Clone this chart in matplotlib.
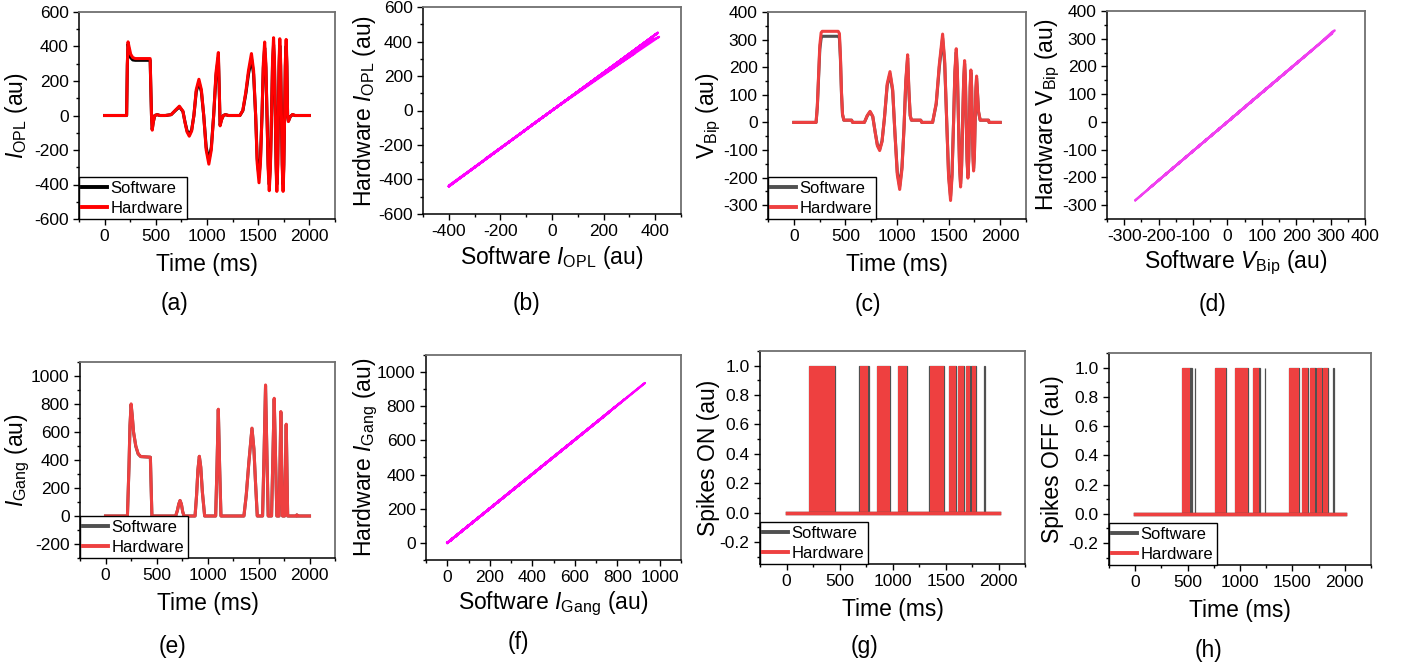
import matplotlib
matplotlib.use('Agg')
import matplotlib.pyplot as plt
from matplotlib.ticker import MultipleLocator, FixedLocator

plt.rcParams['font.family'] = ['Liberation Sans', 'DejaVu Sans']
plt.rcParams['mathtext.fontset'] = 'custom'
plt.rcParams['mathtext.rm'] = 'Liberation Sans'
plt.rcParams['mathtext.it'] = 'Liberation Sans:italic'
plt.rcParams['axes.unicode_minus'] = False

# ---- data (time in ms) ----
t_opl = [0, 215, 222, 229, 240, 255, 275, 300, 445, 450, 458, 465, 475, 490, 514, 540,
         594, 650, 690, 730, 765, 785, 805, 827, 850, 872, 895, 921, 945, 968, 992, 1018,
         1042, 1065, 1088, 1111, 1120, 1128, 1142, 1160, 1180, 1210,
         1321, 1350, 1380, 1405, 1434, 1455, 1475, 1490, 1508, 1522, 1537, 1550, 1563, 1575,
         1586, 1597, 1608, 1619, 1630, 1640, 1650, 1659, 1667, 1675, 1682, 1690, 1697, 1704,
         1711, 1719, 1727, 1735, 1743, 1750, 1758, 1765, 1773, 1780, 1787, 1795, 1812, 1835,
         1860, 2000]
hw_opl = [0, 0, 300, 427, 395, 355, 336, 330, 330, 200, 0, -85, -40, 0, 5, 0,
          0, 5, 30, 54, 25, -40, -95, -120, -90, 0, 150, 210, 150, 0, -200, -282,
          -200, 0, 250, 365, 150, -60, -25, 0, 5, 0,
          0, 30, 140, 260, 359, 260, 0, -275, -390, -275, 0, 300, 426, 300,
          0, -308, -436, -308, 0, 318, 451, 318, 0, -311, -440, -311, 0, 315,
          445, 315, 0, -311, -440, -311, 0, 312, 441, 312, 0, -35, -8, 6,
          0, 0]
sw_opl = [0, 0, 290, 415, 370, 335, 322, 320, 320, 190, 0, -80, -38, 0, 5, 0,
          0, 5, 28, 50, 23, -37, -88, -111, -83, 0, 138, 193, 138, 0, -184, -260,
          -184, 0, 230, 336, 138, -55, -23, 0, 5, 0,
          0, 28, 130, 240, 330, 240, 0, -250, -355, -250, 0, 276, 392, 276,
          0, -282, -400, -282, 0, 290, 410, 290, 0, -283, -400, -283, 0, 287,
          405, 287, 0, -283, -400, -283, 0, 284, 402, 284, 0, -32, -7, 5,
          0, 0]

t_bip = [0, 216, 228, 240, 252, 265, 275, 430, 442, 452, 462, 472, 485, 560, 570,
         684, 712, 739, 765, 790, 810, 832, 855, 878, 905, 932, 958, 980, 1003, 1026,
         1048, 1068, 1085, 1103, 1115, 1128, 1140, 1230, 1240,
         1345, 1380, 1410, 1442, 1462, 1482, 1500, 1519, 1533, 1548, 1561, 1574, 1585,
         1596, 1606, 1616, 1626, 1636, 1646, 1655, 1663, 1671, 1679, 1687, 1695, 1702,
         1709, 1716, 1723, 1729, 1736, 1742, 1750, 1757, 1764, 1771, 1780, 1790, 1806,
         1887, 1892, 2000]
hw_bip = [0, 0, 60, 170, 280, 325, 330, 330, 322, 240, 110, 30, 8, 8, 0,
          0, 25, 40, 22, -40, -85, -102, -70, 15, 140, 184, 120, -40, -190, -243,
          -170, -20, 150, 245, 120, 25, 8, 8, 0,
          0, 70, 210, 320, 224, 0, -198, -283, -198, 0, 187, 267, 187,
          0, -164, -234, -164, 0, 157, 224, 157, 0, -141, -202, -141, 0,
          133, 190, 133, 0, -123, -176, -123, 0, 118, 168, 110, 40, 8,
          8, 0, 0]
sw_bip = [0, 0, 55, 160, 265, 305, 312, 312, 305, 228, 105, 28, 8, 8, 0,
          0, 24, 38, 21, -38, -81, -97, -67, 14, 133, 175, 114, -38, -181, -231,
          -162, -19, 143, 233, 114, 24, 8, 8, 0,
          0, 66, 200, 305, 213, 0, -188, -268, -188, 0, 178, 254, 178,
          0, -156, -222, -156, 0, 149, 213, 149, 0, -134, -192, -134, 0,
          126, 180, 126, 0, -117, -167, -117, 0, 112, 160, 105, 38, 8,
          8, 0, 0]

t_gang = [0, 215, 230, 240, 251, 262, 275, 297, 320, 345, 440, 446, 455,
          688, 705, 718, 731, 744, 757, 770,
          878, 893, 906, 920, 934, 950, 972,
          1080, 1093, 1106, 1119, 1132,
          1357, 1380, 1405, 1436, 1455, 1470, 1488,
          1540, 1555, 1569, 1582, 1595, 1628, 1641, 1654, 1667, 1680,
          1702, 1711, 1719, 1727, 1736, 1756, 1764, 1772, 1779, 1786,
          1870, 1876, 1882, 2000]
hw_gang = [0, 0, 350, 650, 801, 720, 600, 500, 445, 425, 420, 250, 0,
           0, 40, 85, 111, 85, 30, 0,
           0, 150, 330, 427, 350, 170, 0,
           0, 350, 763, 350, 0,
           0, 150, 380, 628, 480, 250, 0,
           0, 460, 936, 460, 0, 0, 420, 841, 420, 0,
           0, 380, 746, 380, 0, 0, 330, 656, 330, 0,
           0, 8, 0, 0]
sw_gang = [0, 0, 345, 645, 795, 715, 598, 498, 443, 424, 420, 248, 0,
           0, 40, 84, 110, 84, 30, 0,
           0, 149, 328, 425, 348, 169, 0,
           0, 348, 760, 348, 0,
           0, 149, 378, 625, 478, 249, 0,
           0, 457, 930, 457, 0, 0, 418, 835, 418, 0,
           0, 378, 742, 378, 0, 0, 328, 652, 328, 0,
           0, 8, 0, 0]

# spike bursts (start, end) in ms
t_span = [0, 2000]
hw_on = [(212, 460), (695, 765), (858, 973), (1052, 1139), (1352, 1484),
         (1531, 1599), (1621, 1678), (1690, 1728), (1747, 1787)]
sw_on = [(210, 460), (683, 775), (858, 973), (1052, 1139), (1340, 1484),
         (1531, 1599), (1621, 1678), (1690, 1728), (1738, 1787), (1862, 1868)]
hw_off = [(446, 526), (765, 864), (957, 1081), (1123, 1183), (1470, 1560),
          (1591, 1646), (1668, 1719), (1732, 1780), (1795, 1837)]
sw_off = [(446, 542), (566, 574), (765, 864), (957, 1081), (1123, 1192),
          (1234, 1241), (1470, 1560), (1591, 1646), (1668, 1722), (1732, 1782),
          (1795, 1842), (1888, 1894)]

W, H = 1408, 668
fig = plt.figure(figsize=(W / 100, H / 100), dpi=100)

TICK_FS = 12.5
LABEL_FS = 16.5
GRAY = '#505050'
LRED = '#EE4040'
MAG = '#FF00FF'


def make_ax(l, t, r, b):
    ax = fig.add_axes([l / W, 1 - b / H, (r - l) / W, (b - t) / H])
    ax.px_w = r - l
    return ax


def style(ax, xlim, ylim, xmaj, xmin, ymaj, ymin):
    ax.set_xlim(*xlim)
    ax.set_ylim(*ylim)
    ax.xaxis.set_major_locator(MultipleLocator(xmaj))
    ax.xaxis.set_minor_locator(MultipleLocator(xmin))
    ax.yaxis.set_major_locator(MultipleLocator(ymaj))
    ax.yaxis.set_minor_locator(MultipleLocator(ymin))
    ax.tick_params(which='major', direction='out', length=4.5, width=1,
                   labelsize=TICK_FS, pad=3, top=False, right=False)
    ax.tick_params(which='minor', direction='out', length=2.5, width=1,
                   top=False, right=False)
    for s in ['left', 'bottom']:
        ax.spines[s].set_color('black')
        ax.spines[s].set_linewidth(1.1)
    for s in ['top', 'right']:
        ax.spines[s].set_color('#707070')
        ax.spines[s].set_linewidth(1.3)


def set_ylab(ax, text, off_px):
    # centre of the rotated label sits off_px pixels left of the axes
    ax.set_ylabel(text, fontsize=LABEL_FS, va='center')
    ax.yaxis.set_label_coords(-off_px / ax.px_w, 0.5)


def add_legend(ax):
    leg = ax.legend(loc='lower left', bbox_to_anchor=(0, 0), borderaxespad=0,
                    fancybox=False, edgecolor='black', framealpha=1,
                    fontsize=12, handlelength=1.5, handletextpad=0.2,
                    borderpad=0.2, labelspacing=0.3)
    leg.get_frame().set_linewidth(1.0)
    for ln in leg.get_lines():
        ln.set_linewidth(2.8)


def time_panel(ax, t, sw, hw, ylim, ymaj, ymin, ylabel, off, c_sw, c_hw):
    ax.plot(t, sw, color=c_sw, lw=2.2, label='Software')
    ax.plot(t, hw, color=c_hw, lw=2.2, label='Hardware')
    style(ax, (-250, 2250), ylim, 500, 250, ymaj, ymin)
    ax.set_xlabel('Time (ms)', fontsize=LABEL_FS, labelpad=6)
    set_ylab(ax, ylabel, off)
    add_legend(ax)


def spike_panel(ax, sw_b, hw_b, ylabel, off):
    ax.plot(t_span, [0, 0], color=GRAY, lw=2.5, label='Software')
    ax.plot(t_span, [0, 0], color=LRED, lw=2.5, label='Hardware')
    ax.bar([s for s, e in sw_b], 1, width=[e - s for s, e in sw_b], align='edge',
           color=GRAY, edgecolor=GRAY, linewidth=0.9)
    ax.bar([s for s, e in hw_b], 1, width=[e - s for s, e in hw_b], align='edge',
           color=LRED, edgecolor=LRED, linewidth=0)
    style(ax, (-250, 2250), (-0.35, 1.1), 500, 250, 0.2, 0.1)
    ax.yaxis.set_major_locator(FixedLocator([-0.2, 0.0, 0.2, 0.4, 0.6, 0.8, 1.0]))
    ax.set_yticklabels(['-0.2', '0.0', '0.2', '0.4', '0.6', '0.8', '1.0'])
    ax.set_xlabel('Time (ms)', fontsize=LABEL_FS, labelpad=6)
    set_ylab(ax, ylabel, off)
    add_legend(ax)


def xy_panel(ax, sw, hw, lim_x, lim_y, maj, mnr, xlabel, ylabel, off, color):
    ax.plot(sw, hw, color=color, lw=1.6)
    style(ax, lim_x, lim_y, maj, mnr, maj, mnr)
    ax.set_xlabel(xlabel, fontsize=LABEL_FS, labelpad=3)
    set_ylab(ax, ylabel, off)


# (a)
ax = make_ax(79, 12, 335, 219)
time_panel(ax, t_opl, sw_opl, hw_opl, (-600, 600), 200, 100,
           r'$I_{\mathrm{OPL}}$ (au)', 62, 'black', '#FF0000')
# (b)
ax = make_ax(423, 7, 681, 214)
xy_panel(ax, sw_opl, hw_opl, (-500, 500), (-600, 600), 200, 100,
         r'Software $I_{\mathrm{OPL}}$ (au)', r'Hardware $I_{\mathrm{OPL}}$ (au)', 58, MAG)
# (c)
ax = make_ax(768, 12, 1026, 219)
time_panel(ax, t_bip, sw_bip, hw_bip, (-350, 400), 100, 50,
           r'V$_{\mathrm{Bip}}$ (au)', 59, GRAY, LRED)
# (d)
ax = make_ax(1107, 11, 1365, 219)
xy_panel(ax, sw_bip, hw_bip, (-350, 400), (-350, 400), 100, 50,
         r'Software $V_{\mathrm{Bip}}$ (au)', r'Hardware V$_{\mathrm{Bip}}$ (au)', 59,
         '#F040F0')
# (e)
ax = make_ax(80, 362, 335, 558)
time_panel(ax, t_gang, sw_gang, hw_gang, (-300, 1100), 200, 100,
           r'$I_{\mathrm{Gang}}$ (au)', 62, GRAY, LRED)
# (f)
ax = make_ax(426, 355, 681, 560)
xy_panel(ax, sw_gang, hw_gang, (-100, 1100), (-100, 1100), 200, 100,
         r'Software $I_{\mathrm{Gang}}$ (au)', r'Hardware $I_{\mathrm{Gang}}$ (au)', 60, MAG)
# (g)
ax = make_ax(760, 351, 1025, 564)
spike_panel(ax, sw_on, hw_on, 'Spikes ON (au)', 52)
# (h)
ax = make_ax(1109, 353, 1371, 565)
spike_panel(ax, sw_off, hw_off, 'Spikes OFF (au)', 57)

# panel letters
letters = [('(a)', 174, 303), ('(b)', 527, 303), ('(c)', 868, 305), ('(d)', 1212, 305),
           ('(e)', 173, 647), ('(f)', 518, 643), ('(g)', 865, 647), ('(h)', 1208, 650)]
for txt, x, y in letters:
    fig.text(x / W, 1 - y / H, txt, fontsize=LABEL_FS, ha='center', va='center')

fig.savefig('out.png', dpi=100)
